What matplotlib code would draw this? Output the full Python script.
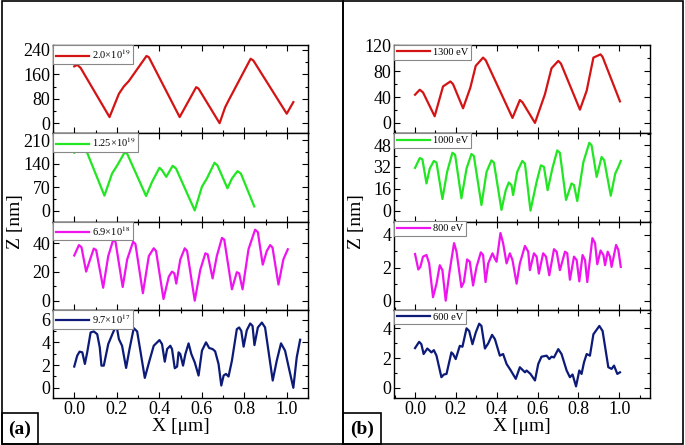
import numpy as np
import matplotlib
matplotlib.use("Agg")
import matplotlib.pyplot as plt
from matplotlib.patches import Rectangle
from matplotlib.ticker import MultipleLocator

plt.rcParams['font.family'] = ['Liberation Serif', 'DejaVu Serif']
plt.rcParams['mathtext.fontset'] = 'stix'

# ==========================================
# data
# ==========================================
# (a) doping series
a1_x = [0, .014, .03, .166, .21, .233, .257, .34, .351, .496, .574, .585, .684, .71, .726, .83, .843, 1.0, 1.031]
a1_y = [186, 191, 181, 20, 96, 120, 138, 220, 216, 20, 118, 113, 0, 52, 74, 211, 205, 31, 69]

a2_x = [0, .030, .041, .142, .178, .202, .238, .249, .338, .366, .401, .413, .433, .463, .479, .538, .567,
        .601, .624, .660, .674, .721, .742, .768, .784, .847]
a2_y = [173, 187, 204, 45, 111, 135, 175, 170, 44, 86, 128, 121, 101, 134, 126, 42, 1,
        72, 96, 143, 135, 67, 96, 118, 111, 13]

a3_x = [0, .022, .034, .056, .069, .092, .103, .136, .16, .183, .194, .228, .249, .277, .288, .323, .351,
        .374, .385, .42, .445, .46, .471, .48, .499, .52, .531, .567, .593, .617, .628, .651, .671, .695,
        .706, .742, .765, .776, .792, .82, .851, .864, .887, .906, .922, .933, .961, .984, .992, 1.005]
a3_y = [31.4, 38.6, 37.1, 20.2, 26.2, 36.2, 35.2, 9.0, 31, 42.1, 41, 9.5, 28.6, 41, 39.3, 5.2, 31,
        36.4, 34.5, 1.2, 16.7, 20.2, 19, 11.9, 28.6, 36.4, 34.5, 0, 21.4, 32.9, 32.1, 15.5, 31, 43.6,
        42.4, 7.9, 19.8, 19, 7.9, 35.7, 49.3, 47.6, 25, 34.5, 38.6, 36.9, 11.2, 28.6, 31.4, 35.7]

a4_x = [0, .014, .025, .038, .05, .061, .077, .092, .108, .12, .128, .139, .16, .178, .194, .202, .21,
        .225, .244, .26, .28, .296, .311, .332, .354, .374, .401, .413, .426, .437, .452, .46, .473,
        .484, .491, .499, .512, .523, .538, .551, .567, .585, .601, .62, .635, .651, .663, .679, .692,
        .703, .714, .726, .742, .765, .776, .786, .797, .812, .828, .839, .848, .864, .883, .898, .934,
        .953, .973, .992, 1.011, 1.031, 1.047, 1.063]
a4_y = [1.87, 2.83, 3.18, 3.12, 2.10, 3.12, 4.87, 4.96, 4.72, 3.56, 1.95, 1.95, 3.85, 4.66, 5.36, 5.16, 4.29,
        3.70, 1.75, 3.41, 5.25, 4.96, 3.27, 0.87, 2.39, 3.70, 4.20, 3.85, 2.30, 3.41, 3.70, 3.41, 1.72,
        1.87, 3.12, 2.97, 1.95, 2.97, 3.91, 2.97, 2.24, 1.08, 3.27, 4.0, 3.50, 3.41, 3.21, 2.10, 0.20,
        1.08, 1.22, 0.99, 2.39, 5.16, 5.31, 5.01, 3.62, 5.07, 5.66, 5.45, 3.76, 5.31, 5.74, 5.31, 0.64,
        2.39, 3.91, 3.27, 1.66, 0, 2.68, 4.23]

# (b) energy series
b1_x = [0, .023, .039, .096, .137, .173, .186, .235, .271, .297, .333, .346, .477, .513, .526, .587,
        .636, .668, .701, .714, .807, .84, .873, .908, .918, 1.003]
b1_y = [43.6, 51.3, 47.2, 10.3, 56.4, 64.1, 60, 22.6, 54.9, 88.2, 101, 96.9, 7.7, 35.4, 31.8, 0,
        44.6, 84.6, 95.9, 91.8, 20.5, 49.7, 101, 106, 102, 33.3]

b2_x = [0, .023, .036, .056, .072, .092, .105, .134, .157, .183, .196, .227, .252, .276, .288, .325, .35,
        .374, .386, .423, .444, .459, .472, .48, .5, .525, .538, .565, .595, .616, .631, .649, .672,
        .696, .709, .739, .766, .778, .794, .824, .853, .864, .889, .913, .926, .958, .98, .995, 1.007]
b2_y = [31.3, 38.5, 37.6, 19.9, 30.8, 36.4, 35.2, 8.5, 28.4, 42.4, 41, 9.0, 30.8, 41.5, 40, 4.1, 28.4,
        36.8, 35.2, 0.5, 15, 20.6, 18.7, 11.4, 28.4, 36.4, 34.4, 0, 21.1, 33.2, 32, 15.0, 30.8,
        44.1, 42.4, 7.8, 19.9, 18.7, 7.0, 35.6, 49.7, 47.8, 24.7, 39.3, 36.8, 10.9, 27.2, 32.0, 36.4]

b3_x = [0, .016, .026, .039, .056, .069, .088, .105, .121, .134, .15, .17, .191, .203, .227, .239, .255,
        .268, .284, .301, .322, .333, .345, .358, .379, .39, .399, .418, .431, .448, .464, .477, .497,
        .513, .538, .554, .562, .582, .595, .606, .627, .641, .657, .68, .693, .709, .734, .745, .758,
        .778, .791, .804, .82, .832, .843, .868, .881, .892, .908, .922, .93, .943, .954, .962, .984,
        .995, 1.007]
b3_y = [2.83, 1.89, 2.05, 2.67, 2.77, 2.26, 0.21, 1.03, 2.15, 1.85, 0, 1.85, 3.49, 2.97, 0.82, 1.13, 2.5,
        2.36, 0.92, 2.05, 2.93, 2.77, 1.13, 2.26, 2.87, 2.56, 2.36, 4.1, 3.49, 2.26, 2.87, 2.46, 1.03,
        2.26, 3.32, 2.97, 1.85, 2.87, 2.67, 1.64, 2.87, 2.67, 1.54, 3.12, 2.97, 1.85, 2.97, 2.87, 1.27,
        2.67, 2.46, 1.17, 2.77, 2.46, 1.13, 3.79, 3.49, 2.21, 3.04, 2.77, 2.15, 2.97, 2.67, 2.05, 3.38,
        3.08, 2.05]

b4_x = [0, .02, .031, .042, .06, .072, .08, .092, .105, .129, .141, .154, .178, .186, .199, .219, .232,
        .252, .265, .281, .297, .314, .325, .342, .358, .377, .391, .415, .431, .448, .467, .493, .513,
        .521, .538, .546, .565, .587, .603, .619, .644, .657, .668, .68, .701, .717, .742, .758, .771,
        .788, .804, .815, .827, .84, .856, .873, .902, .918, .946, .962, .974, .99, 1.003]
b4_y = [2.67, 3.09, 2.93, 2.27, 2.64, 2.49, 2.38, 2.53, 2.16, 0.71, 0.89, 0.93, 2.38, 2.27, 1.93, 2.82, 2.76,
        4.0, 3.82, 2.93, 3.71, 4.31, 4.16, 2.64, 2.98, 3.56, 3.27, 2.16, 2.27, 1.6, 1.2, 0.6, 1.38,
        1.27, 1.04, 1.16, 0.93, 0.49, 1.6, 2.09, 2.16, 1.93, 2.09, 2.04, 2.6, 2.27, 1.16, 0.71, 0.89,
        0.09, 1.16, 0.93, 1.71, 2.27, 2.16, 3.6, 4.16, 3.82, 1.38, 1.27, 1.49, 0.93, 1.04]

labels_a = [r'2.0×10$^{19}$', r'1.25×10$^{19}$', r'6.9×10$^{18}$', r'9.7×10$^{17}$']
labels_b = ['1300 eV', '1000 eV', '800 eV', '600 eV']
colors = ['#d41414', '#22e622', '#ee14ee', '#0c1a78']

# (ylim, major, minor) for each row
ystyle_a = [((-33, 256), 80, 40), ((-32, 231), 70, 35), ((-6.3, 55), 20, 10), ((-0.9, 6.87), 2, 1)]
ystyle_b = [((-16, 120.5), 40, 20), ((-8, 56.7), 16, 8), ((-0.55, 4.8), 2, 1), ((-0.69, 5.25), 2, 1)]

# ==========================================
# figure
# ==========================================
W, H = 685, 445
fig = plt.figure(figsize=(W / 100, H / 100), dpi=100)

def fx(px):
    return px / W

def fy(py):
    return 1 - py / H

rows = [45, 133.25, 221.5, 309.75, 398]

def make_panel(x0, x1, xlim, series, labels, ystyles):
    axes = []
    for i in range(4):
        ax = fig.add_axes([fx(x0), fy(rows[i + 1]), fx(x1 - x0), (rows[i + 1] - rows[i]) / H])
        xs, ys = series[i]
        ax.plot(xs, ys, color=colors[i], lw=1.6, label=labels[i])
        ax.set_xlim(*xlim)
        (ylo, yhi), maj, mnr = ystyles[i]
        ax.set_ylim(ylo, yhi)
        ax.yaxis.set_major_locator(MultipleLocator(maj))
        ax.yaxis.set_minor_locator(MultipleLocator(mnr))
        ax.xaxis.set_major_locator(MultipleLocator(0.2))
        ax.xaxis.set_minor_locator(MultipleLocator(0.1))
        ax.tick_params(which='both', direction='in', top=True, right=True, labelsize=13, pad=2)
        ax.tick_params(which='major', length=4, width=0.8)
        ax.tick_params(which='minor', length=2.5, width=0.8)
        for s in ax.spines.values():
            s.set_linewidth(1.0)
        if i < 3:
            ax.tick_params(labelbottom=False)
        else:
            ax.xaxis.set_major_formatter(matplotlib.ticker.FormatStrFormatter('%.1f'))
            ax.set_xlabel('X [μm]', fontsize=14, labelpad=0)
        leg = ax.legend(loc='upper left', fontsize=7.5, frameon=True, fancybox=False,
                        borderaxespad=0, handlelength=3.2, handletextpad=0.3,
                        borderpad=0.25, framealpha=1)
        leg.get_frame().set_edgecolor('#888888')
        leg.get_frame().set_linewidth(0.8)
        axes.append(ax)
    return axes

make_panel(53, 308, (-0.1, 1.1),
           [(a1_x, a1_y), (a2_x, a2_y), (a3_x, a3_y), (a4_x, a4_y)], labels_a, ystyle_a)
make_panel(394, 650, (-0.103, 1.15),
           [(b1_x, b1_y), (b2_x, b2_y), (b3_x, b3_y), (b4_x, b4_y)], labels_b, ystyle_b)

fig.text(fx(16), fy(222), 'Z [nm]', rotation=90, ha='center', va='center', fontsize=14)
fig.text(fx(356), fy(222), 'Z [nm]', rotation=90, ha='center', va='center', fontsize=14)

# panel frames
for x0, x1 in [(2, 343), (343, 683)]:
    fig.patches.append(Rectangle((fx(x0), fy(444)), fx(x1 - x0), (444 - 1) / H,
                                 transform=fig.transFigure, fill=False, lw=1.2, ec='black'))

# (a) / (b) tags
for x0, x1, tag in [(2, 38, '(a)'), (343, 381, '(b)')]:
    fig.patches.append(Rectangle((fx(x0), fy(444)), fx(x1 - x0), 31 / H,
                                 transform=fig.transFigure, fill=False, lw=1.2, ec='black'))
    fig.text(fx((x0 + x1) / 2), fy(429), tag, ha='center', va='center',
             fontsize=14, fontweight='bold')

fig.savefig('out.png', dpi=100)
